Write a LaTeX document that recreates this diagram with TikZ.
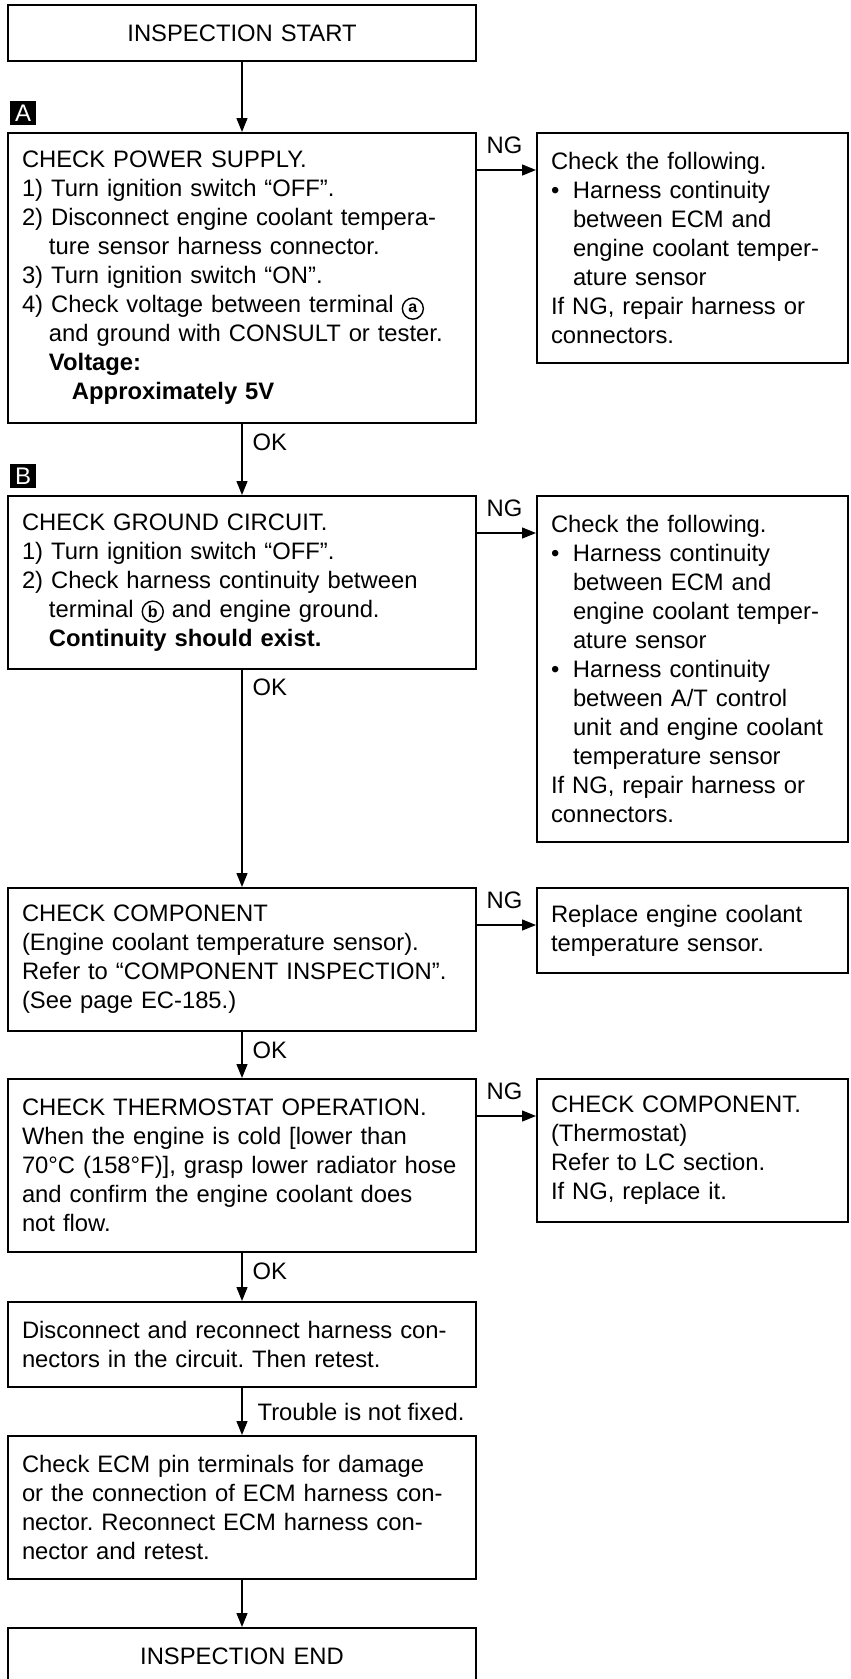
\documentclass[tikz,border=0pt]{standalone}
\usepackage{fontspec}
\setmainfont{Liberation Sans}
\usetikzlibrary{arrows.meta, positioning}

\newcommand{\indt}{\hspace*{27pt}}
\newcommand{\blt}{\makebox[22pt][l]{\textbullet}}
\newcommand{\bltind}{\hspace*{22pt}}
% circled terminal letter
\newcommand{\cirl}[1]{\tikz[baseline=(cl.base)]\node[circle, draw,
  line width=1.4pt, inner sep=0pt, text width=, align=center,
  minimum size=21pt, font=\fontsize{16}{16}\bfseries\selectfont] (cl) {#1};}

\begin{document}
\frenchspacing
\begin{tikzpicture}[
    x=1pt, y=1pt,
    box/.style    = {draw, line width=2pt, text width=440pt, inner xsep=14pt,
                     inner ysep=6pt, align=left,
                     font=\fontsize{23.8}{29}\selectfont},
    endbox/.style = {box, align=center, minimum height=56pt},
    ngbox/.style  = {box, text width=283pt},
    tag/.style    = {fill=black, text=white, minimum width=26pt,
                     minimum height=24pt, inner sep=0pt,
                     font=\fontsize{24}{24}\selectfont},
    lbl/.style    = {inner sep=0pt, font=\fontsize{23.8}{29}\selectfont},
    arrow/.style  = {-{Triangle[length=14pt, width=11pt]}, line width=1.3pt}
  ]
  \useasboundingbox (0,0) rectangle (851,-1679);
  \clip (0,0) rectangle (851,-1679);

  % Start
  \node[endbox] (start) at (242,-33) {INSPECTION START};

  % A: power supply
  \node[box, minimum height=290pt, below=70pt of start] (pow)
    {CHECK POWER SUPPLY.\\
     1) Turn ignition switch ``OFF''.\\
     2) Disconnect engine coolant tempera-\\
     \indt ture sensor harness connector.\\
     3) Turn ignition switch ``ON''.\\
     4) Check voltage between terminal \cirl{a}\\
     \indt and ground with CONSULT or tester.\\
     \indt\textbf{Voltage:}\\
     \hspace*{50pt}\textbf{Approximately 5V}};
  \node[tag, anchor=south west] (tagA) at ([shift={(3pt,7pt)}]pow.north west) {A};
  \node[ngbox, minimum height=230pt, below right=0pt and 59pt of pow.north east] (ngA)
    {Check the following.\\
     \blt Harness continuity\\
     \bltind between ECM and\\
     \bltind engine coolant temper-\\
     \bltind ature sensor\\
     If NG, repair harness or\\
     connectors.};

  % B: ground circuit
  \node[box, minimum height=173pt, below=71pt of pow] (gnd)
    {CHECK GROUND CIRCUIT.\\
     1) Turn ignition switch ``OFF''.\\
     2) Check harness continuity between\\
     \indt terminal \cirl{b} and engine ground.\\
     \indt\textbf{Continuity should exist.}};
  \node[tag, anchor=south west] (tagB) at ([shift={(3pt,7pt)}]gnd.north west) {B};
  \node[ngbox, minimum height=346pt, below right=0pt and 59pt of gnd.north east] (ngB)
    {Check the following.\\
     \blt Harness continuity\\
     \bltind between ECM and\\
     \bltind engine coolant temper-\\
     \bltind ature sensor\\
     \blt Harness continuity\\
     \bltind between A/T control\\
     \bltind unit and engine coolant\\
     \bltind temperature sensor\\
     If NG, repair harness or\\
     connectors.};

  % Component
  \node[box, minimum height=143pt, below=217pt of gnd] (comp)
    {CHECK COMPONENT\\
     (Engine coolant temperature sensor).\\
     Refer to ``COMPONENT INSPECTION''.\\
     (See page EC-185.)};
  \node[ngbox, minimum height=85pt, below right=0pt and 59pt of comp.north east] (ngC)
    {Replace engine coolant\\
     temperature sensor.};

  % Thermostat
  \node[box, minimum height=173pt, below=46pt of comp] (thermo)
    {CHECK THERMOSTAT OPERATION.\\
     When the engine is cold [lower than\\
     70°C (158°F)], grasp lower radiator hose\\
     and confirm the engine coolant does\\
     not flow.};
  \node[ngbox, minimum height=143pt, below right=0pt and 59pt of thermo.north east] (ngD)
    {CHECK COMPONENT.\\
     (Thermostat)\\
     Refer to LC section.\\
     If NG, replace it.};

  % Reconnect and pins
  \node[box, minimum height=85pt, below=48pt of thermo] (reconn)
    {Disconnect and reconnect harness con-\\
     nectors in the circuit. Then retest.};
  \node[box, minimum height=143pt, below=47pt of reconn] (pins)
    {Check ECM pin terminals for damage\\
     or the connection of ECM harness con-\\
     nector. Reconnect ECM harness con-\\
     nector and retest.};

  % End
  \node[endbox, below=47pt of pins] (endn) {INSPECTION END};

  % Arrows
  \draw[arrow] (start) -- (pow);
  \draw[arrow] (pow) -- node[lbl, pos=0, anchor=north west, xshift=10pt, yshift=-9pt] {OK} (gnd);
  \draw[arrow] (gnd) -- node[lbl, pos=0, anchor=north west, xshift=10pt, yshift=-8pt] {OK} (comp);
  \draw[arrow] (comp) -- node[lbl, pos=0, anchor=north west, xshift=10pt, yshift=-9pt] {OK} (thermo);
  \draw[arrow] (thermo) -- node[lbl, pos=0, anchor=north west, xshift=10pt, yshift=-9pt] {OK} (reconn);
  \draw[arrow] (reconn) -- node[lbl, midway, anchor=west, xshift=15pt] {Trouble is not fixed.} (pins);
  \draw[arrow] (pins) -- (endn);

  \draw[arrow] ([yshift=-38pt]pow.north east) -- node[lbl, pos=0, anchor=south west, xshift=9pt, yshift=16pt] {NG} ([yshift=-38pt]ngA.north west);
  \draw[arrow] ([yshift=-38pt]gnd.north east) -- node[lbl, pos=0, anchor=south west, xshift=9pt, yshift=16pt] {NG} ([yshift=-38pt]ngB.north west);
  \draw[arrow] ([yshift=-38pt]comp.north east) -- node[lbl, pos=0, anchor=south west, xshift=9pt, yshift=16pt] {NG} ([yshift=-38pt]ngC.north west);
  \draw[arrow] ([yshift=-38pt]thermo.north east) -- node[lbl, pos=0, anchor=south west, xshift=9pt, yshift=16pt] {NG} ([yshift=-38pt]ngD.north west);
\end{tikzpicture}
\end{document}
